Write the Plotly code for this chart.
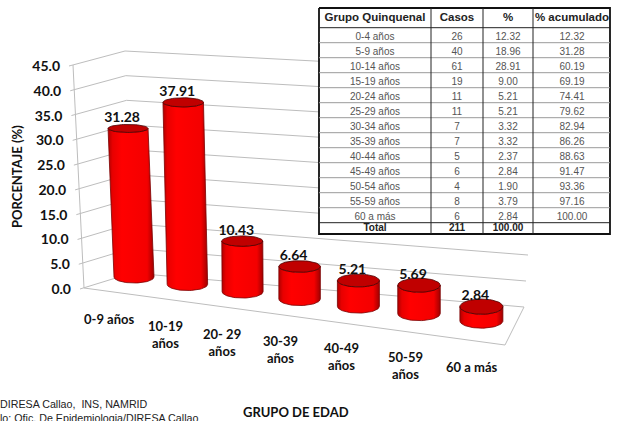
import numpy as np
import plotly.graph_objects as go

# chart data
categorias = ["0-9 años", "10-19<br>años", "20- 29<br>años", "30-39<br>años",
              "40-49<br>años", "50-59<br>años", "60 a más"]
porcentaje = [31.28, 37.91, 10.43, 6.64, 5.21, 5.69, 2.84]
ticks_y = [0, 5, 10, 15, 20, 25, 30, 35, 40, 45]

# table data
grupos = ["0-4 años", "5-9 años", "10-14 años", "15-19 años", "20-24 años", "25-29 años",
          "30-34 años", "35-39 años", "40-44 años", "45-49 años", "50-54 años", "55-59 años",
          "60 a más"]
casos = ["26", "40", "61", "19", "11", "11", "7", "7", "5", "6", "4", "8", "6"]
pct = ["12.32", "18.96", "28.91", "9.00", "5.21", "5.21", "3.32", "3.32", "2.37", "2.84",
       "1.90", "3.79", "2.84"]
acumulado = ["12.32", "31.28", "60.19", "69.19", "74.41", "79.62", "82.94", "86.26", "88.63",
             "91.47", "93.36", "97.16", "100.00"]
encabezado = ["Grupo Quinquenal", "Casos", "%", "% acumulado"]
total = ["Total", "211", "100.00", ""]

GRID = "#bdbdbd"
FONT = "Lato"
fig = go.Figure()


def lines(segments, color, width):
    xs, ys = [], []
    for (x0, y0), (x1, y1) in segments:
        xs += [x0, x1, None]
        ys += [y0, y1, None]
    fig.add_trace(go.Scatter(x=xs, y=ys, mode="lines", line=dict(color=color, width=width)))


# fake 3d box: every point comes from a value on the axis
def front_left(v):
    return 84 - 11 * v / 45, 288 - 223 * v / 45


def back_left(v):
    return 132 - 7 * v / 45, 273 - 222 * v / 45


def back_right(v):
    return 524 + 18 * v / 45, 307 - 234 * v / 45


segs = []
for t in ticks_y:
    fx, fy = front_left(t)
    segs.append(((fx - 4, fy + 1), back_left(t)))
    segs.append((back_left(t), back_right(t)))
segs.append((front_left(0), front_left(45)))
segs.append((front_left(0), (505, 345)))
segs.append(((505, 345), back_right(0)))
lines(segs, GRID, 1)

# cylinders
theta = np.linspace(0, np.pi, 40)
tops = []
for i, v in enumerate(porcentaje):
    bx = 134 + 52.5 * i + 0.9 * i * i
    by = 277 + 7.33 * i
    rx = 20 + 0.25 * i
    ry_top = 4 + 0.6 * i
    ry_base = 6 + 0.2 * i
    tx = bx + min(0, -0.19 + 0.08 * i) * v
    ty = by - (4.75 + 0.05 * i) * v
    tops.append((tx - 6, ty - 10))

    body_x = np.concatenate([bx - rx * np.cos(theta), tx + rx * np.cos(theta)])
    body_y = np.concatenate([by + ry_base * np.sin(theta), ty + ry_top * np.sin(theta)])
    fig.add_trace(go.Scatter(
        x=np.append(body_x, body_x[0]), y=np.append(body_y, body_y[0]),
        mode="lines", fill="toself", line=dict(color="#7a0000", width=0.8),
        fillgradient=dict(type="horizontal", colorscale=[
            [0, "#b00000"], [0.1, "#e80000"], [0.3, "#ff0000"],
            [0.85, "#f40000"], [1, "#a00000"]]),
    ))
    a = np.linspace(0, 2 * np.pi, 60)
    fig.add_trace(go.Scatter(
        x=tx + rx * np.cos(a), y=ty + ry_top * np.sin(a), mode="lines", fill="toself",
        fillcolor="#c00000", line=dict(color="#4a0000", width=0.8),
    ))

fig.add_trace(go.Scatter(
    x=[p[0] for p in tops], y=[p[1] for p in tops], mode="text",
    text=[f"{v:.2f}" for v in porcentaje], textposition="middle center",
    textfont=dict(family=FONT, size=14, color="#111111", weight="bold"),
))

# y tick labels, right aligned against the slanted axis
fig.add_trace(go.Scatter(
    x=[front_left(t)[0] - 13 for t in ticks_y], y=[front_left(t)[1] + 2.5 for t in ticks_y],
    mode="text", text=[f"{t:.1f}" for t in ticks_y], textposition="middle left",
    textfont=dict(family=FONT, size=14, color="#111111", weight="bold"),
))

# category labels
cat_x = [109, 165, 222, 280, 341, 405, 471]
cat_y = [319, 334, 342, 349.5, 356.5, 365, 367]
for c, x, y in zip(categorias, cat_x, cat_y):
    fig.add_annotation(x=x, y=y, text=c, showarrow=False, xanchor="center", yanchor="middle",
                       font=dict(family=FONT, size=13, color="#111111", weight="bold"))

fig.add_annotation(x=17, y=177, text="PORCENTAJE (%)", textangle=-90, showarrow=False,
                   font=dict(family=FONT, size=13, color="#111111", weight="bold"))
fig.add_annotation(x=296, y=412, text="GRUPO DE EDAD", showarrow=False,
                   font=dict(family=FONT, size=13, color="#111111", weight="bold"))

# footer, runs off the page like the source image
fig.add_trace(go.Scatter(
    x=[0, 0], y=[405, 419], mode="text",
    text=["DIRESA Callao,  INS, NAMRID", "lo: Ofic. De Epidemiologia/DIRESA Callao"],
    textposition="middle right",
    textfont=dict(family="Liberation Sans", size=10.7, color="#222222"),
))

# table
col_edges = [319, 431, 483, 533, 610]
col_mid = [375, 457, 508, 572]
row_top, row_h = 27.7, 15
fig.add_trace(go.Scatter(
    x=[319, 610, 610, 319, 319], y=[8, 8, 234, 234, 8], mode="lines", fill="toself",
    fillcolor="white", line=dict(color="#111111", width=1.8),
))
lines([((319, row_top + row_h * k), (610, row_top + row_h * k)) for k in range(1, 13)],
      "#9a9a9a", 1)
lines([((x, 8), (x, 234)) for x in col_edges[1:-1]]
      + [((319, row_top), (610, row_top)), ((319, 222.7), (610, 222.7))], "#222222", 1)
row_y = [row_top + row_h * (k + 0.67) for k in range(len(grupos))]
for col, x in zip([grupos, casos, pct, acumulado], col_mid):
    fig.add_trace(go.Scatter(
        x=[x] * len(col), y=row_y, mode="text", text=col, textposition="middle center",
        textfont=dict(family="Liberation Sans", size=10, color="#555555"),
    ))
fig.add_trace(go.Scatter(
    x=col_mid, y=[18] * 4, mode="text", text=encabezado, textposition="middle center",
    textfont=dict(family="Liberation Sans", size=11.5, color="#222222", weight="bold"),
))
fig.add_trace(go.Scatter(
    x=col_mid, y=[228.5] * 4, mode="text", text=total, textposition="middle center",
    textfont=dict(family="Liberation Sans", size=10, color="#222222", weight="bold"),
))

fig.update_layout(
    width=617, height=421, margin=dict(l=0, r=0, t=0, b=0), showlegend=False,
    paper_bgcolor="white", plot_bgcolor="white",
    xaxis=dict(range=[0, 617], visible=False),
    yaxis=dict(range=[421, 0], visible=False),
)
fig.write_html("out.html", config=dict(displayModeBar=False),
               post_script="document.body.style.margin='0';")
